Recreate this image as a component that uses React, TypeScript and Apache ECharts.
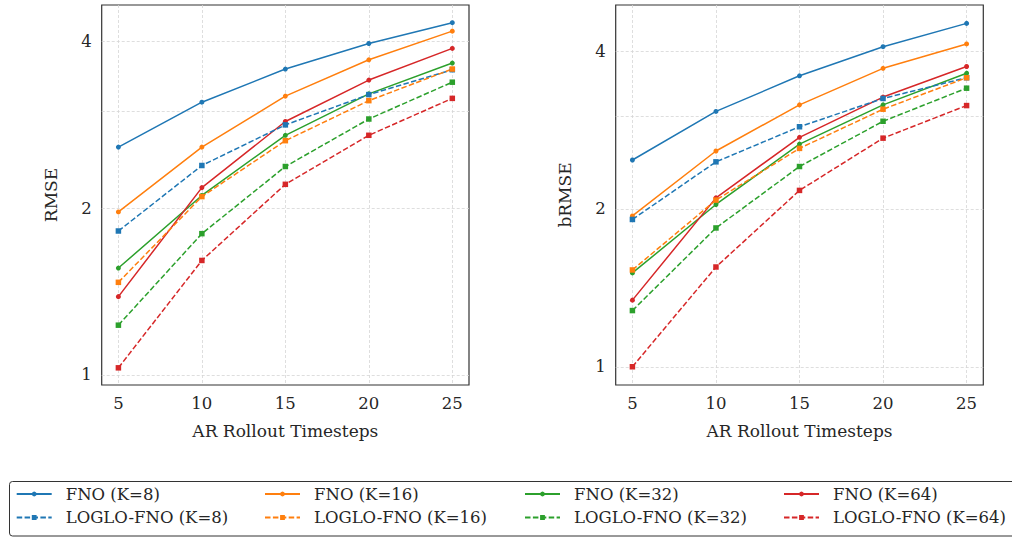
import React, { useEffect, useRef } from "react";
import * as echarts from "echarts";

const steps = [5, 10, 15, 20, 25];
const xTicks = [5, 10, 15, 20, 25];
const yLabelTicks = [1, 2, 4];
const yGridTicks = [1, 2, 3, 4];

const seriesNames = [
  "FNO (K=8)",
  "FNO (K=16)",
  "FNO (K=32)",
  "FNO (K=64)",
  "LOGLO-FNO (K=8)",
  "LOGLO-FNO (K=16)",
  "LOGLO-FNO (K=32)",
  "LOGLO-FNO (K=64)",
];

// RMSE (left panel)
const rmseFNO8 = [2.58, 3.11, 3.57, 3.97, 4.33];
const rmseFNO16 = [1.97, 2.58, 3.19, 3.71, 4.18];
const rmseFNO32 = [1.56, 2.11, 2.71, 3.22, 3.66];
const rmseFNO64 = [1.385, 2.18, 2.87, 3.41, 3.89];
const rmseLOGLO8 = [1.82, 2.39, 2.83, 3.21, 3.56];
const rmseLOGLO16 = [1.47, 2.1, 2.65, 3.13, 3.57];
const rmseLOGLO32 = [1.23, 1.8, 2.38, 2.9, 3.38];
const rmseLOGLO64 = [1.03, 1.61, 2.21, 2.71, 3.16];

// bRMSE (right panel)
const brmseFNO8 = [2.48, 3.07, 3.59, 4.08, 4.52];
const brmseFNO16 = [1.94, 2.58, 3.16, 3.71, 4.13];
const brmseFNO32 = [1.51, 2.04, 2.66, 3.16, 3.63];
const brmseFNO64 = [1.34, 2.1, 2.74, 3.27, 3.74];
const brmseLOGLO8 = [1.91, 2.46, 2.87, 3.25, 3.56];
const brmseLOGLO16 = [1.53, 2.08, 2.61, 3.1, 3.56];
const brmseLOGLO32 = [1.28, 1.84, 2.41, 2.94, 3.4];
const brmseLOGLO64 = [1.0, 1.55, 2.17, 2.73, 3.15];

const rmseData = [rmseFNO8, rmseFNO16, rmseFNO32, rmseFNO64, rmseLOGLO8, rmseLOGLO16, rmseLOGLO32, rmseLOGLO64];
const brmseData = [brmseFNO8, brmseFNO16, brmseFNO32, brmseFNO64, brmseLOGLO8, brmseLOGLO16, brmseLOGLO32, brmseLOGLO64];

const palette = ["#1f77b4", "#ff7f0e", "#2ca02c", "#d62728"];
const TEXT = "#262626";
const FONT = "DejaVu Serif";

export default function App() {
  const ref = useRef<HTMLDivElement>(null);
  useEffect(() => {
    if (!ref.current) return;
    const chart = echarts.init(ref.current, undefined, { renderer: "svg" });

    const makeSeries = (data: number[][], axisIdx: number) =>
      data.map((vals, i) => {
        const dashed = i >= 4;
        const color = palette[i % 4];
        return {
          name: seriesNames[i],
          type: "line",
          xAxisIndex: axisIdx,
          yAxisIndex: axisIdx,
          data: steps.map((s, j) => [s, vals[j]]),
          symbol: dashed ? "rect" : "circle",
          symbolSize: dashed ? 5.5 : 5,
          showSymbol: true,
          color,
          itemStyle: { color },
          lineStyle: { color, width: 1.5, type: dashed ? [5.5, 2.4] : "solid" },
          z: 3,
        };
      });

    const xAxis = (gridIndex: number) => ({
      type: "value",
      gridIndex,
      min: 4,
      max: 26,
      axisLine: { show: false },
      axisTick: { show: false, customValues: xTicks },
      axisLabel: {
        customValues: xTicks,
        color: TEXT,
        fontFamily: FONT,
        fontSize: 16.5,
        margin: 10,
      },
      splitLine: { show: true, lineStyle: { type: [3, 2], color: "#d6d6d6", width: 0.8 } },
      name: "AR Rollout Timesteps",
      nameLocation: "middle",
      nameGap: 37,
      nameTextStyle: { color: TEXT, fontFamily: FONT, fontSize: 17 },
    });

    const yAxis = (gridIndex: number, name: string, min: number, max: number) => ({
      type: "log",
      logBase: 2,
      gridIndex,
      min,
      max,
      axisLine: { show: false },
      axisTick: { show: false, customValues: yGridTicks },
      axisLabel: {
        customValues: yLabelTicks,
        color: TEXT,
        fontFamily: FONT,
        fontSize: 16.5,
        margin: 10,
        formatter: (v: number) => String(Math.round(v * 1000) / 1000),
      },
      splitLine: { show: true, lineStyle: { type: [3, 2], color: "#d6d6d6", width: 0.8 } },
      name,
      nameLocation: "middle",
      nameGap: 42,
      nameTextStyle: { color: TEXT, fontFamily: FONT, fontSize: 17 },
    });

    const colLefts = [15.7, 264, 524, 783];
    const legends = colLefts.map((left, c) => ({
      orient: "vertical",
      left,
      top: 485.5,
      padding: 0,
      itemGap: 6.5,
      itemWidth: 35,
      itemHeight: 6,
      data: [seriesNames[c], seriesNames[c + 4]],
      textStyle: { color: TEXT, fontFamily: FONT, fontSize: 16.5, padding: [0, 0, 0, 9] },
    }));

    chart.setOption({
      animation: false,
      backgroundColor: "#ffffff",
      grid: [
        { left: 101.7, top: 5, width: 367.3, height: 380, show: true, borderColor: "#333333", borderWidth: 1.2, backgroundColor: "transparent" },
        { left: 615.7, top: 5, width: 367.6, height: 380, show: true, borderColor: "#333333", borderWidth: 1.2, backgroundColor: "transparent" },
      ],
      xAxis: [xAxis(0), xAxis(1)],
      yAxis: [yAxis(0, "RMSE", 0.959, 4.66), yAxis(1, "bRMSE", 0.923, 4.9)],
      legend: legends,
      graphic: [
        {
          type: "rect",
          shape: { x: 9.5, y: 481.5, width: 1010, height: 54.5, r: 3 },
          style: { fill: "none", stroke: "#333333", lineWidth: 1 },
          silent: true,
        },
      ],
      series: [...makeSeries(rmseData, 0), ...makeSeries(brmseData, 1)],
    });

    return () => chart.dispose();
  }, []);

  return (
    <div
      ref={ref}
      style={{ position: "absolute", left: 0, top: 0, width: 1012, height: 537 }}
    />
  );
}
